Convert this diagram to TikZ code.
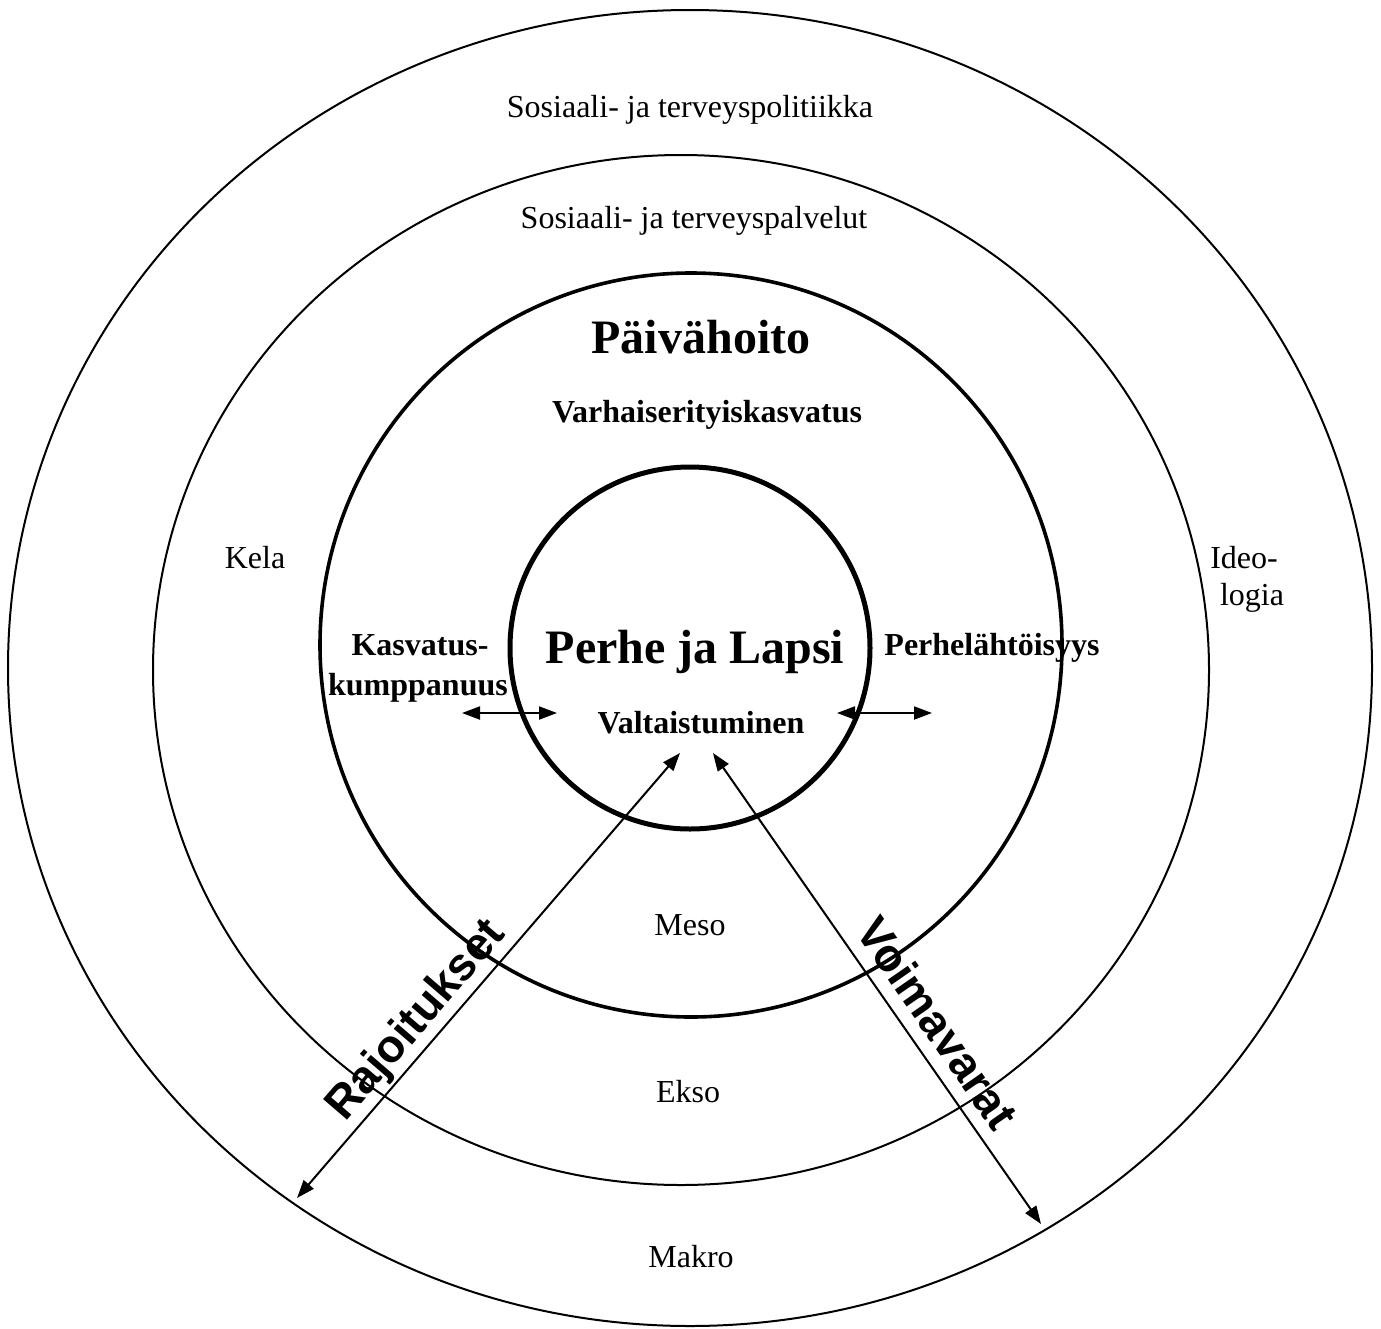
\documentclass[tikz,border=0pt]{standalone}
\usepackage{fontspec}
\setmainfont{Liberation Serif}
\newfontfamily\sansb{Liberation Sans}
\usetikzlibrary{arrows.meta}
\begin{document}
\begin{tikzpicture}[x=1pt,y=-1pt,
  reg/.style={font=\fontsize{32}{37}\selectfont, inner sep=0pt, anchor=base},
  bld/.style={font=\fontsize{32}{40}\selectfont\bfseries, inner sep=0pt, anchor=base},
  big/.style={font=\fontsize{48}{56}\selectfont\bfseries, inner sep=0pt, anchor=base},
  diag/.style={font=\fontsize{46}{52}\selectfont\sansb\bfseries, inner sep=0pt},
  thinring/.style={draw=black, line width=2pt},
  midring/.style={draw=black, line width=3.6pt},
  corering/.style={draw=black, line width=5pt},
  conn/.style={line width=2pt, {Triangle[length=18pt,width=13pt]}-{Triangle[length=18pt,width=13pt]}}
]
\useasboundingbox (0,0) rectangle (1381,1328);
\fill[white] (0,0) rectangle (1381,1328);

% rings
\draw[thinring] (690,668) ellipse [x radius=682pt, y radius=658pt];
\draw[thinring] (681,670) ellipse [x radius=528pt, y radius=515pt];
\draw[midring] (691,645) ellipse [x radius=371pt, y radius=372pt];
\draw[corering] (690,648) ellipse [x radius=180pt, y radius=181pt];

% texts
\node[reg] (pol) at (690,117) {Sosiaali- ja terveyspolitiikka};
\node[reg] (palv) at (694,228) {Sosiaali- ja terveyspalvelut};
\node[big] (paiv) at (701,353) {Päivähoito};
\node[bld] (varh) at (707,422) {Varhaiserityiskasvatus};
\node[reg] (kela) at (255,568) {Kela};
\node[reg] (ideo) at (1244,568) {Ideo-};
\node[reg] (logia) at (1252,605) {logia};
\node[bld] (kasv) at (420,655) {Kasvatus-};
\node[bld] (kump) at (418,695) {kumppanuus};
\node[big] (perhe) at (695,663) {Perhe ja Lapsi};
\node[bld] (perhel) at (992,655) {Perhelähtöisyys};
\node[bld] (valt) at (701,733) {Valtaistuminen};
\node[reg] (meso) at (690,935) {Meso};
\node[reg] (ekso) at (688,1102) {Ekso};
\node[reg] (makro) at (691,1267) {Makro};

% connector end points
\coordinate (kl) at (462,713);
\coordinate (kr) at (557,713);
\coordinate (pl) at (837,713);
\coordinate (pr) at (932,713);
\coordinate (rb) at (297,1198);
\coordinate (rt) at (680,753);
\coordinate (vt) at (713,753);
\coordinate (vb) at (1041,1224);

\draw[conn] (kl) -- (kr);
\draw[conn] (pl) -- (pr);
\draw[conn] (rb) -- (rt);
\draw[conn] (vt) -- (vb);

\node[diag, rotate=49.3] (raj) at (417,1021) {Rajoitukset};
\node[diag, rotate=-55.2] (voim) at (938,1023) {Voimavarat};
\end{tikzpicture}
\end{document}
